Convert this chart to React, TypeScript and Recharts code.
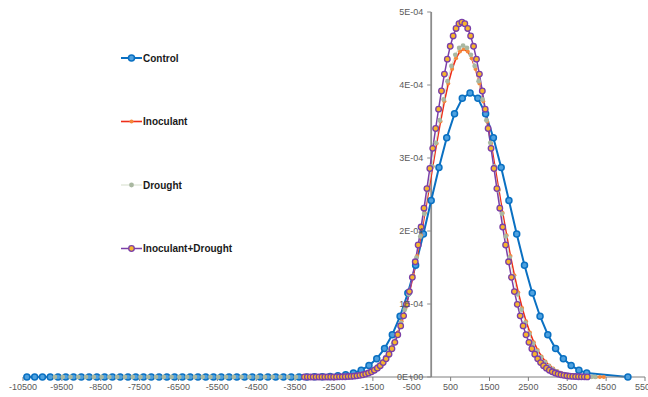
import { LineChart, Line, XAxis, YAxis, ReferenceLine, Legend } from 'recharts';

// density values are in units of 1E-04
const xTicks = [-10500, -9500, -8500, -7500, -6500, -5500, -4500, -3500, -2500, -1500, -500, 500, 1500, 2500, 3500, 4500, 5500];
const yTicks = [0, 1, 2, 3, 4, 5];
const yTickLabels = ['0E+00', '1E-04', '2E-04', '3E-04', '4E-04', '5E-04'];

const controlX = [
  -10400, -10200, -10000, -9800, -9600, -9400, -9200, -9000, -8800, -8600,
  -8400, -8200, -8000, -7800, -7600, -7400, -7200, -7000, -6800, -6600,
  -6400, -6200, -6000, -5800, -5600, -5400, -5200, -5000, -4800, -4600,
  -4400, -4200, -4000, -3800, -3600,
  -3400, -3200, -3000, -2800, -2600, -2400, -2200, -2000, -1800, -1600,
  -1400, -1200, -1000, -800, -600, -400, -200, 0, 200, 400,
  600, 800, 1000, 1200, 1400, 1600, 1800, 2000, 2200, 2400,
  2600, 2800, 3000, 3200, 3400, 3600, 3800, 4000,
  5060,
];
const controlY = [
  0, 0, 0, 0, 0, 0, 0, 0, 0, 0,
  0, 0, 0, 0, 0, 0, 0, 0, 0, 0,
  0, 0, 0, 0, 0, 0, 0, 0, 0, 0,
  0, 0, 0, 0, 0,
  0.0004, 0.0009, 0.0019, 0.004, 0.0082, 0.0159, 0.0298, 0.0537, 0.0932, 0.156,
  0.251, 0.389, 0.58, 0.832, 1.15, 1.531, 1.96, 2.417, 2.869, 3.277,
  3.605, 3.817, 3.89, 3.817, 3.605, 3.277, 2.869, 2.417, 1.96, 1.531,
  1.15, 0.832, 0.58, 0.389, 0.251, 0.156, 0.0932, 0.0537,
  0.0015,
];

const inoculantX = [
  -2960, -2860, -2760, -2660, -2560, -2460, -2360, -2260, -2160, -2060,
  -1960, -1860, -1760, -1660, -1560, -1460, -1360, -1260, -1160, -1060,
  -960, -860, -760, -660, -560, -460, -360, -260, -160, -60,
  40, 140, 240, 340, 440, 540, 640, 740, 840, 940,
  1040, 1140, 1240, 1340, 1440, 1540, 1640, 1740, 1840, 1940,
  2040, 2140, 2240, 2340, 2440, 2540, 2640, 2740, 2840, 2940,
  3040, 3140, 3240, 3340, 3440, 3540, 3640, 3740, 3840, 3940,
  4040, 4140, 4240, 4340, 4440,
];
const inoculantY = [
  0.0002, 0.0003, 0.0006, 0.0009, 0.0015, 0.0024, 0.0038, 0.0058, 0.0089, 0.0133,
  0.0198, 0.0289, 0.0418, 0.0594, 0.0834, 0.115, 0.158, 0.212, 0.282, 0.369,
  0.477, 0.608, 0.764, 0.946, 1.157, 1.394, 1.657, 1.943, 2.247, 2.563,
  2.883, 3.199, 3.5, 3.777, 4.019, 4.219, 4.367, 4.459, 4.49, 4.459,
  4.367, 4.219, 4.019, 3.777, 3.5, 3.199, 2.883, 2.563, 2.247, 1.943,
  1.657, 1.394, 1.157, 0.946, 0.764, 0.608, 0.477, 0.369, 0.282, 0.212,
  0.158, 0.115, 0.0834, 0.0594, 0.0418, 0.0289, 0.0198, 0.0133, 0.0089, 0.0058,
  0.0038, 0.0024, 0.0015, 0.0009, 0.0006,
];

const droughtX = [
  -9680, -9480, -9280, -9080, -8880, -8680, -8480, -8280, -8080, -7880,
  -7680, -7480, -7280, -7080, -6880, -6680, -6480, -6280, -6080, -5880,
  -5680, -5480, -5280, -5080, -4880, -4680, -4480, -4280, -4080, -3880,
  -3680, -3480,
  -3280, -3180, -3080, -2980, -2880, -2780, -2680, -2580, -2480, -2380,
  -2280, -2180, -2080, -1980, -1880, -1780, -1680, -1580, -1480, -1380,
  -1280, -1180, -1080, -980, -880, -780, -680, -580, -480, -380,
  -280, -180, -80, 20, 120, 220, 320, 420, 520, 620,
  720, 820, 920, 1020, 1120, 1220, 1320, 1420, 1520, 1620,
  1720, 1820, 1920, 2020, 2120, 2220, 2320, 2420, 2520, 2620,
  2720, 2820, 2920, 3020, 3120, 3220, 3320, 3420, 3520, 3620,
  3720, 3820, 3920, 4020, 4120, 4220,
];
const droughtY = [
  0, 0, 0, 0, 0, 0, 0, 0, 0, 0,
  0, 0, 0, 0, 0, 0, 0, 0, 0, 0,
  0, 0, 0, 0, 0, 0, 0, 0, 0, 0,
  0, 0,
  0, 0.0001, 0.0001, 0.0002, 0.0003, 0.0005, 0.0008, 0.0013, 0.002, 0.0032,
  0.005, 0.0077, 0.0117, 0.0176, 0.0259, 0.0377, 0.0542, 0.0766, 0.107, 0.147,
  0.199, 0.267, 0.352, 0.457, 0.586, 0.74, 0.922, 1.132, 1.371, 1.636,
  1.926, 2.235, 2.557, 2.885, 3.208, 3.517, 3.803, 4.053, 4.26, 4.413,
  4.508, 4.54, 4.508, 4.413, 4.26, 4.053, 3.803, 3.517, 3.208, 2.885,
  2.557, 2.235, 1.926, 1.636, 1.371, 1.132, 0.922, 0.74, 0.586, 0.457,
  0.352, 0.267, 0.199, 0.147, 0.107, 0.0766, 0.0542, 0.0377, 0.0259, 0.0176,
  0.0117, 0.0077, 0.005, 0.0032, 0.002, 0.0013,
];

const inocDroughtX = [
  -3260, -3185, -3110, -3035, -2960, -2885, -2810, -2735, -2660, -2585,
  -2510, -2435, -2360, -2285, -2210, -2135, -2060, -1985, -1910, -1835,
  -1760, -1685, -1610, -1535, -1460, -1385, -1310, -1235, -1160, -1085,
  -1010, -935, -860, -785, -710, -635, -560, -485, -410, -335,
  -260, -185, -110, -35, 40, 115, 190, 265, 340, 415,
  490, 565, 640, 715, 790, 865, 940, 1015, 1090, 1165,
  1240, 1315, 1390, 1465, 1540, 1615, 1690, 1765, 1840, 1915,
  1990, 2065, 2140, 2215, 2290, 2365, 2440, 2515, 2590, 2665,
  2740, 2815, 2890, 2965, 3040, 3115, 3190, 3265, 3340, 3415,
  3490, 3565, 3640, 3715, 3790, 3865, 3940, 4015,
];
const inocDroughtY = [
  0, 0, 0, 0, 0.0001, 0.0001, 0.0002, 0.0003, 0.0004, 0.0007,
  0.001, 0.0014, 0.0021, 0.003, 0.0043, 0.0061, 0.0085, 0.0119, 0.0163, 0.0223,
  0.0302, 0.0406, 0.054, 0.0712, 0.0931, 0.121, 0.155, 0.197, 0.249, 0.312,
  0.387, 0.475, 0.579, 0.7, 0.838, 0.995, 1.17, 1.365, 1.578, 1.808,
  2.054, 2.313, 2.581, 2.856, 3.132, 3.404, 3.669, 3.918, 4.149, 4.354,
  4.53, 4.672, 4.775, 4.839, 4.86, 4.839, 4.775, 4.672, 4.53, 4.354,
  4.149, 3.918, 3.669, 3.404, 3.132, 2.856, 2.581, 2.313, 2.054, 1.808,
  1.578, 1.365, 1.17, 0.995, 0.838, 0.7, 0.579, 0.475, 0.387, 0.312,
  0.249, 0.197, 0.155, 0.121, 0.0931, 0.0712, 0.054, 0.0406, 0.0302, 0.0223,
  0.0163, 0.0119, 0.0085, 0.0061, 0.0043, 0.003, 0.0021, 0.0014,
];

const toPoints = (xs: number[], ys: number[]) => xs.map((x, i) => ({ x, y: ys[i] }));

const series = [
  { name: 'Control', data: toPoints(controlX, controlY), stroke: '#0A70C2', width: 2, dotFill: '#4EA1DF', dotStroke: '#0A70C2', r: 3, dotStrokeWidth: 1.5 },
  { name: 'Inoculant', data: toPoints(inoculantX, inoculantY), stroke: '#EE2E1A', width: 1.6, dotFill: '#F5883A', dotStroke: 'none', r: 2, dotStrokeWidth: 0 },
  { name: 'Drought', data: toPoints(droughtX, droughtY), stroke: '#D5DECB', width: 1, dotFill: '#A9B8A1', dotStroke: 'none', r: 2.4, dotStrokeWidth: 0 },
  { name: 'Inoculant+Drought', data: toPoints(inocDroughtX, inocDroughtY), stroke: '#7A3FA8', width: 1.5, dotFill: '#F7B52C', dotStroke: '#7A3FA8', r: 2.8, dotStrokeWidth: 1.3 },
];

const W = 648;
const H = 397;
const Y_AXIS_W = 1;
const MARGIN = { top: 12, right: 3, bottom: 0, left: 23 - Y_AXIS_W };
const X_MIN = -10500;
const X_MAX = 5500;
const FONT = '"Liberation Sans", Arial, sans-serif';
// pixel position of x = 0, where the value axis crosses
const PLOT_LEFT = MARGIN.left + Y_AXIS_W;
const ZERO_X = PLOT_LEFT + ((W - PLOT_LEFT - MARGIN.right) * (0 - X_MIN)) / (X_MAX - X_MIN);

function YTick(props: any) {
  const { y, payload, index } = props;
  return (
    <g>
      <line x1={ZERO_X - 4} x2={ZERO_X} y1={y} y2={y} stroke="#8c8c8c" strokeWidth={1} />
      <text x={ZERO_X - 8} y={y} textAnchor="end" dominantBaseline="central" fontSize={9} fill="#595959" fontFamily={FONT}>
        {yTickLabels[index] ?? String(payload.value)}
      </text>
    </g>
  );
}

function LegendBox() {
  return (
    <svg width={140} height={215} style={{ display: 'block' }}>
      {series.map((s, i) => {
        const cy = 18 + i * 63.5;
        return (
          <g key={s.name}>
            <line x1={6} x2={27} y1={cy} y2={cy} stroke={s.stroke} strokeWidth={s.width} />
            <circle cx={16.5} cy={cy} r={s.r} fill={s.dotFill} stroke={s.dotStroke} strokeWidth={s.dotStrokeWidth} />
            <text x={28} y={cy} dominantBaseline="central" fontSize={10} fontWeight="bold" fill="#1a1a1a" fontFamily={FONT}>
              {s.name}
            </text>
          </g>
        );
      })}
    </svg>
  );
}

export default function App() {
  return (
    <div style={{ position: 'absolute', left: 0, top: 0, width: W, height: H, background: '#fff', fontFamily: FONT }}>
      <LineChart width={W} height={H} margin={MARGIN}>
        <XAxis
          type="number"
          dataKey="x"
          domain={[X_MIN, X_MAX]}
          ticks={xTicks}
          interval={0}
          allowDataOverflow
          height={20}
          tickSize={4}
          tickMargin={3}
          axisLine={{ stroke: '#7f7f7f', strokeWidth: 1 }}
          tickLine={{ stroke: '#7f7f7f' }}
          tick={{ fontSize: 9, fill: '#595959', fontFamily: FONT }}
        />
        <YAxis
          type="number"
          domain={[0, 5]}
          ticks={yTicks}
          interval={0}
          width={Y_AXIS_W}
          axisLine={false}
          tickLine={false}
          tick={YTick}
        />
        <ReferenceLine x={0} stroke="#8c8c8c" strokeWidth={1.8} />
        <Legend
          layout="vertical"
          align="center"
          verticalAlign="middle"
          wrapperStyle={{ left: 115, top: 40, width: 140 }}
          content={() => <LegendBox />}
        />
        {series.map((s) => (
          <Line
            key={s.name}
            name={s.name}
            data={s.data}
            dataKey="y"
            type="linear"
            stroke={s.stroke}
            strokeWidth={s.width}
            dot={{ r: s.r, fill: s.dotFill, stroke: s.dotStroke, strokeWidth: s.dotStrokeWidth }}
            activeDot={false}
            isAnimationActive={false}
          />
        ))}
      </LineChart>
    </div>
  );
}
